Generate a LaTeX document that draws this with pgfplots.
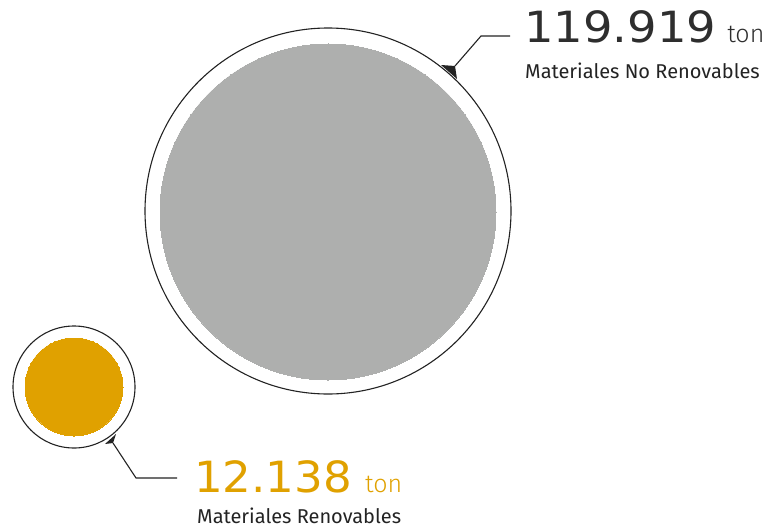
\documentclass[border=0pt]{standalone}
\usepackage{fontspec}
\usepackage{graphicx}
\setmainfont{Fira Sans}
\newfontfamily\lightf{Fira Sans Light}
\newfontfamily\numf{DejaVu Sans}
\usepackage{pgfplots}
\pgfplotsset{compat=1.18}
\definecolor{graybub}{RGB}{174,175,174}
\definecolor{orangebub}{RGB}{224,161,0}
\definecolor{darkt}{RGB}{35,35,35}
\begin{document}
\begin{tikzpicture}
\begin{axis}[x=1pt, y=1pt, xmin=0, xmax=770, ymin=0, ymax=527, y dir=reverse,
  hide axis, clip=false]
\addplot[draw=none, forget plot] coordinates {(0,0) (770,527)};
% outer rings
\addplot[darkt, only marks, mark=*, mark size=183, mark options={draw=darkt, fill=white, line width=1.1pt}] coordinates {(328,211)};
\addplot[graybub, only marks, mark=*, mark size=168, mark options={draw=graybub, fill=graybub, line width=0pt}] coordinates {(328,212)};
\addplot[darkt, only marks, mark=*, mark size=61, mark options={draw=darkt, fill=white, line width=1.1pt}] coordinates {(74,387)};
\addplot[orangebub, only marks, mark=*, mark size=49, mark options={draw=orangebub, fill=orangebub, line width=0pt}] coordinates {(74,387)};
% leader lines
\addplot[darkt, line width=1.1pt, mark=none] coordinates {(455,66) (481,36) (510,36)};
\addplot[darkt, line width=1.1pt, mark=none] coordinates {(113,443) (136,478) (177,478)};
% wedges
\addplot[fill=darkt, draw=none, mark=none] coordinates {(441,65) (455,66) (457,79)} -- cycle;
\addplot[fill=darkt, draw=none, mark=none] coordinates {(105,444) (113,443) (116,434)} -- cycle;
% labels
\node[anchor=base west, inner sep=0, text=darkt!95] at (axis cs:524,42)
  {\scalebox{1.08}[1]{\numf\fontsize{43}{43}\selectfont 119.919}\hspace{11pt}\lightf\fontsize{25}{25}\selectfont ton};
\node[anchor=base west, inner sep=0, text=darkt] at (axis cs:525,78)
  {\fontsize{20}{20}\selectfont Materiales No Renovables};
\node[anchor=base west, inner sep=0, text=orangebub] at (axis cs:194,492)
  {\scalebox{1.05}[1]{\numf\fontsize{43}{43}\selectfont 12.138}\hspace{13pt}\lightf\fontsize{25}{25}\selectfont ton};
\node[anchor=base west, inner sep=0, text=darkt] at (axis cs:197,523)
  {\fontsize{20}{20}\selectfont Materiales Renovables};
\end{axis}
\end{tikzpicture}
\end{document}
